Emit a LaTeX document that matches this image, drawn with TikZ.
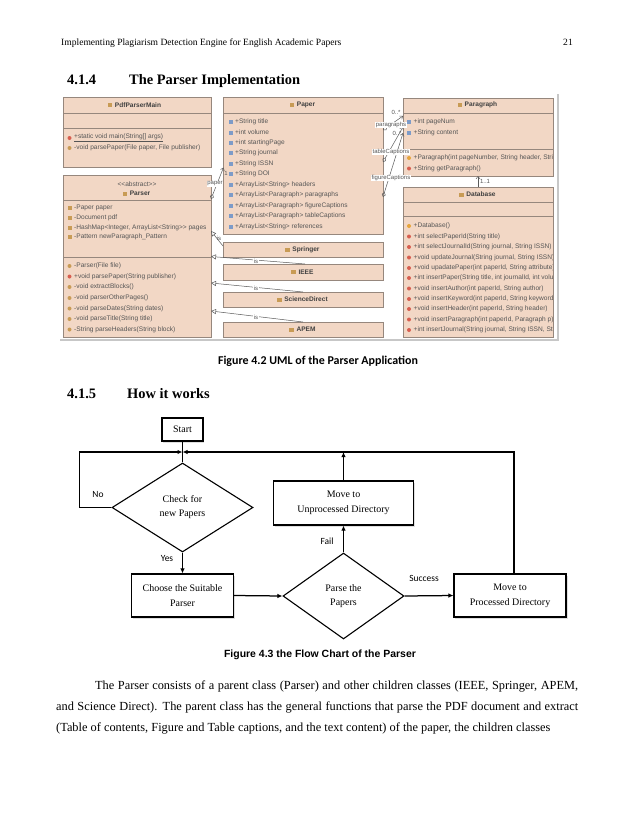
\documentclass[tikz,border=0pt]{standalone}
\usepackage{fontspec}
\setmainfont{Liberation Serif}
\newfontfamily\sansf{Liberation Sans}
\newfontfamily\calf{Carlito}
\usetikzlibrary{arrows.meta,shapes.geometric,shadows}
\definecolor{umlfill}{RGB}{242,215,197}
\definecolor{umlborder}{RGB}{150,135,125}
\definecolor{umltext}{RGB}{85,85,85}
\definecolor{umlline}{RGB}{90,90,90}
\definecolor{iconblue}{RGB}{125,155,200}
\definecolor{icontan}{RGB}{200,155,85}
\definecolor{iconred}{RGB}{215,95,80}
\definecolor{iconorange}{RGB}{230,165,60}
\tikzset{
  cbox/.style={draw=umlborder, fill=umlfill, line width=0.7bp, inner sep=0, anchor=north west},
  csep/.style={draw=umlborder, line width=0.6bp},
  ut/.style={font=\sansf\fontsize{6.6}{7}\selectfont, text=umltext, anchor=west, inner sep=0},
  utitle/.style={font=\sansf\bfseries\fontsize{6.6}{7}\selectfont, text=black!75, inner sep=0},
  ulab/.style={font=\sansf\fontsize{6}{7}\selectfont, text=umltext, inner sep=0.4bp, fill=white},
  assoc/.style={draw=umlline, line width=0.5bp, {Diamond[open,length=5bp,width=4bp]}-{Straight Barb[length=2.5bp,width=4bp]}},
  navi/.style={draw=umlline, line width=0.5bp, -{Straight Barb[length=2.5bp,width=4bp]}},
  gen/.style={draw=umlline, line width=0.5bp, -{Triangle[open,length=5bp,width=5bp]}},
  fbox/.style={draw, line width=1.1bp, fill=white, inner sep=0, align=center, font=\fontsize{10}{15}\selectfont, drop shadow={opacity=0.25, shadow xshift=1.5pt, shadow yshift=-1.5pt}},
  fdia/.style={draw, diamond, line width=1.1bp, inner sep=0, align=center, font=\fontsize{10}{14}\selectfont},
  farr/.style={line width=1.25bp, -{Latex[length=5bp,width=4.5bp]}},
  fline/.style={line width=1.25bp},
  flab/.style={font=\calf\fontsize{9.5}{10}\selectfont, inner sep=0},
  hdr/.style={font=\fontsize{9.6}{12}\selectfont, inner sep=0, anchor=base west},
  sec/.style={font=\bfseries\fontsize{14.5}{16}\selectfont, inner sep=0, anchor=base west},
  bodyline/.style={font=\fontsize{12.4}{14}\selectfont, inner sep=0, anchor=base west},
}
% attribute / method line with icon
\newcommand\ua[4]{\path[fill=#3] (#1-6.5,#2-2) rectangle (#1-2.5,#2+2); \node[ut] at (#1,#2) {#4};}
\newcommand\um[4]{\path[fill=#3] (#1-4.5,#2) circle (2bp); \node[ut] at (#1,#2) {#4};}
\newcommand\ctitle[3]{\node[utitle] (tt) at (#1,#2) {#3}; \path[fill=icontan] ([xshift=-7bp,yshift=2bp]tt.west) rectangle ++(4.5,4);}
\begin{document}
\begin{tikzpicture}[x=1bp,y=-1bp]
\useasboundingbox[fill=white] (0,0) rectangle (638,826);

% ---------- page header ----------
\node[hdr] (head) at (61,45.5) {Implementing Plagiarism Detection Engine for English Academic Papers};
\node[hdr, anchor=base east] (pageno) at (573,45.5) {21};
\node[sec] (s414n) at (67,84) {4.1.4};
\node[sec] (s414) at (129,84) {The Parser Implementation};

% ---------- UML screenshot ----------
\draw[black!22, line width=2bp] (60,340) -- (558,340) -- (558,94);

% PdfParserMain
\node[cbox, minimum width=148bp, minimum height=70bp] (pdfmain) at (63,97) {};
\draw[csep] (63,113) -- (211,113);
\draw[csep] (63,128) -- (211,128);
\ctitle{138}{105}{PdfParserMain}
\um{74}{138}{iconred}{\underline{+static void main(String[] args)}}
\um{74}{148}{icontan}{-void parsePaper(File paper, File publisher)}

% Parser
\node[cbox, minimum width=148bp, minimum height=162bp] (parser) at (63,175) {};
\draw[csep] (63,200) -- (211,200);
\draw[csep] (63,257) -- (211,257);
\node[ut, anchor=center] (abs) at (137,184) {<{}<abstract>{}>};
\ctitle{140}{193.5}{Parser}
\ua{74}{208}{icontan}{-Paper paper}
\ua{74}{218}{icontan}{-Document pdf}
\ua{74}{227.5}{icontan}{-HashMap<Integer, ArrayList<String>{}> pages}
\ua{74}{237}{icontan}{-Pattern newParagraph\_Pattern}
\um{74}{266}{icontan}{-Parser(File file)}
\um{74}{276.5}{iconred}{+void parsePaper(String publisher)}
\um{74}{287}{icontan}{-void extractBlocks()}
\um{74}{298}{icontan}{-void parserOtherPages()}
\um{74}{308.5}{icontan}{-void parseDates(String dates)}
\um{74}{319}{icontan}{-void parseTitle(String title)}
\um{74}{329.5}{icontan}{-String parseHeaders(String block)}

% Paper
\node[cbox, minimum width=160bp, minimum height=137bp] (paper) at (223,97) {};
\draw[csep] (223,113) -- (383,113);
\ctitle{306}{105}{Paper}
\ua{235}{122}{iconblue}{+String title}
\ua{235}{132.5}{iconblue}{+int volume}
\ua{235}{143}{iconblue}{+int startingPage}
\ua{235}{153}{iconblue}{+String journal}
\ua{235}{163.5}{iconblue}{+String ISSN}
\ua{235}{174}{iconblue}{+String DOI}
\ua{235}{184.5}{iconblue}{+ArrayList<String> headers}
\ua{235}{195}{iconblue}{+ArrayList<Paragraph> paragraphs}
\ua{235}{205.5}{iconblue}{+ArrayList<Paragraph> figureCaptions}
\ua{235}{216}{iconblue}{+ArrayList<Paragraph> tableCaptions}
\ua{235}{226.5}{iconblue}{+ArrayList<String> references}

% children
\node[cbox, minimum width=160bp, minimum height=15bp] (springer) at (223,242) {};
\ctitle{306}{249.5}{Springer}
\node[cbox, minimum width=160bp, minimum height=16bp] (ieee) at (223,264) {};
\ctitle{306}{272}{IEEE}
\node[cbox, minimum width=160bp, minimum height=15bp] (sdirect) at (223,292) {};
\ctitle{306}{299.5}{ScienceDirect}
\node[cbox, minimum width=160bp, minimum height=15bp] (apem) at (223,322) {};
\ctitle{306}{329.5}{APEM}

% Paragraph
\node[cbox, minimum width=150bp, minimum height=78bp] (paragraph) at (403,98) {};
\draw[csep] (403,113) -- (553,113);
\draw[csep] (403,149) -- (553,149);
\ctitle{481}{105}{Paragraph}
\begin{scope}
\clip (403,98) rectangle (552.5,176);
\ua{413.5}{122}{iconblue}{+int pageNum}
\ua{413.5}{132.5}{iconblue}{+String content}
\um{413.5}{158}{iconorange}{+Paragraph(int pageNumber, String header, String content)}
\um{413.5}{168.5}{iconred}{+String getParagraph()}
\end{scope}

% Database
\node[cbox, minimum width=150bp, minimum height=150bp] (database) at (403,187) {};
\draw[csep] (403,202) -- (553,202);
\draw[csep] (403,216.5) -- (553,216.5);
\ctitle{481}{194.5}{Database}
\begin{scope}
\clip (403,187) rectangle (552.5,337);
\um{413.5}{226}{iconorange}{+Database()}
\um{413.5}{236.5}{iconred}{+int selectPaperId(String title)}
\um{413.5}{247}{iconred}{+int selectJournalId(String journal, String ISSN)}
\um{413.5}{257.5}{iconred}{+void updateJournal(String journal, String ISSN)}
\um{413.5}{268}{iconred}{+void upadatePaper(int paperId, String attribute)}
\um{413.5}{278}{iconred}{+int insertPaper(String title, int journalId, int volume)}
\um{413.5}{288.5}{iconred}{+void insertAuthor(int paperId, String author)}
\um{413.5}{299}{iconred}{+void insertKeyword(int paperId, String keyword)}
\um{413.5}{309}{iconred}{+void insertHeader(int paperId, String header)}
\um{413.5}{319.5}{iconred}{+void insertParagraph(int paperId, Paragraph p)}
\um{413.5}{330}{iconred}{+int insertJournal(String journal, String ISSN, String)}
\end{scope}

% UML connectors
\coordinate (pa1) at (211,199);   \coordinate (pa2) at (223.5,167.5);
\draw[assoc] (pa1) -- (pa2);
\node[ulab] (lpaper) at (215,184) {paper};
\node[ulab, fill=none] (lone) at (226,173.5) {1};

\coordinate (sp1) at (223,246); \coordinate (sp2) at (211,231);
\draw[gen] (sp1) -- (sp2);
\node[ulab, fill=none] (lis1) at (219,238) {is};
\coordinate (ie1) at (305,264); \coordinate (ie2) at (211,256.5);
\draw[gen] (ie1) -- (ie2);
\node[ulab] (lis2) at (256,261) {is};
\coordinate (sd1) at (303,292); \coordinate (sd2) at (211,283);
\draw[gen] (sd1) -- (sd2);
\node[ulab] (lis3) at (256,288) {is};
\coordinate (ap1) at (303,322); \coordinate (ap2) at (211,311);
\draw[gen] (ap1) -- (ap2);
\node[ulab] (lis4) at (256,317.5) {is};

\coordinate (pg1) at (383,130); \coordinate (pg2) at (403,116);
\draw[assoc] (pg1) -- (pg2);
\coordinate (tc1) at (383,162); \coordinate (tc2) at (403,127);
\draw[assoc] (tc1) -- (tc2);
\coordinate (fc1) at (383,197); \coordinate (fc2) at (403,133);
\draw[assoc] (fc1) -- (fc2);
\node[ulab, fill=none] (m1) at (396,112) {0..*};
\node[ulab, fill=none] (m2) at (397,133) {0..*};
\node[ulab] (lpar) at (391,125) {paragraphs};
\node[ulab] (ltab) at (391,152) {tableCaptions};
\node[ulab] (lfig) at (391,178) {figureCaptions};

\coordinate (db1) at (478,187); \coordinate (db2) at (478,176);
\draw[navi] (db1) -- (db2);
\node[ulab, fill=none] (m3) at (485,181) {1..1};

% caption 4.2
\node[font=\calf\bfseries\fontsize{12}{13}\selectfont, inner sep=0] (cap42) at (318,361) {Figure 4.2 UML of the Parser Application};

% ---------- section 4.1.5 ----------
\node[sec] (s415n) at (67,398) {4.1.5};
\node[sec] (s415) at (127,398) {How it works};

% ---------- flowchart ----------
\node[fbox, minimum width=41bp, minimum height=23bp] (start) at (182.5,429.5) {Start};
\node[fdia, minimum width=141bp, minimum height=89bp] (check) at (182.5,507.5) {Check for\\new Papers};
\node[fbox, minimum width=102bp, minimum height=43bp] (choose) at (182.5,595.5) {Choose the Suitable\\Parser};
\node[fdia, minimum width=121bp, minimum height=86bp] (parse) at (343.5,596) {Parse the\\Papers};
\node[fbox, minimum width=140bp, minimum height=44bp] (unproc) at (343.5,503) {Move to\\Unprocessed Directory};
\node[fbox, minimum width=112bp, minimum height=43bp] (proc) at (510,595.5) {Move to\\Processed Directory};
\coordinate (J) at (182.5,452);

\draw[fline] (start.south) -- (check.north);
\draw[farr] (check.west) -- ++(-32,0) |- (J);
\draw[farr] ([xshift=4bp]proc.north) |- (J);
\draw[farr] (unproc.north) -- (unproc.north |- J);
\draw[farr] (check.south) -- (choose.north);
\draw[farr] (choose.east) -- (parse.west);
\draw[farr] (parse.north) -- (unproc.south);
\draw[farr] (parse.east) -- (proc.west);

\node[flab] (lno) at (98,494) {No};
\node[flab] (lyes) at (167,558) {Yes};
\node[flab] (lfail) at (327,541) {Fail};
\node[flab] (lsucc) at (424,578) {Success};

\node[font=\sansf\bfseries\fontsize{10.5}{12}\selectfont, inner sep=0] (cap43) at (320,655) {Figure 4.3 the Flow Chart of the Parser};

% ---------- body text ----------
\node[bodyline] (body1) at (95,689) {\makebox[483bp][s]{The Parser consists of a parent class (Parser) and other children classes (IEEE, Springer, APEM,}};
\node[bodyline] (body2) at (56,710) {\makebox[522bp][s]{and Science Direct). The parent class has the general functions that parse the PDF document and extract}};
\node[bodyline] (body3) at (56,731) {(Table of contents, Figure and Table captions, and the text content) of the paper, the children classes};

\end{tikzpicture}
\end{document}
